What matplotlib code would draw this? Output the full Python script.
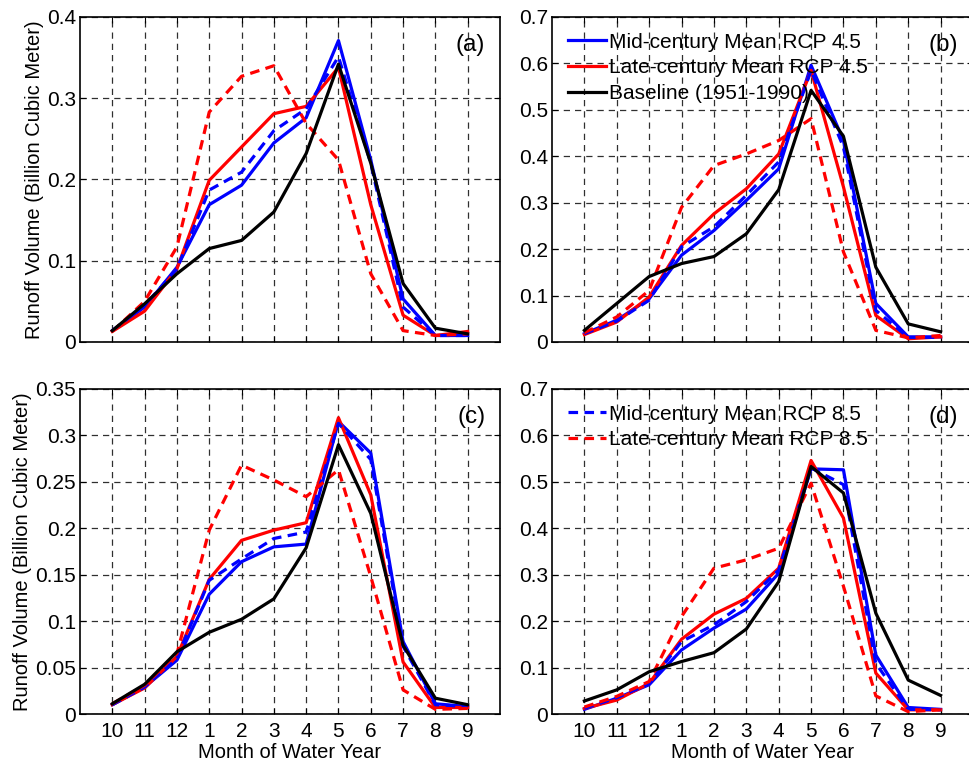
import numpy as np
import matplotlib.pyplot as plt

plt.rcParams['font.family'] = ['Liberation Sans', 'DejaVu Sans']

months = ['10', '11', '12', '1', '2', '3', '4', '5', '6', '7', '8', '9']
x = np.arange(1, 13)

# panel (a)
a_mid45 = [0.014, 0.043, 0.092, 0.169, 0.193, 0.245, 0.276, 0.371, 0.224, 0.053, 0.008, 0.008]
a_late45 = [0.013, 0.038, 0.090, 0.199, 0.240, 0.281, 0.290, 0.338, 0.169, 0.033, 0.008, 0.013]
a_mid85 = [0.014, 0.045, 0.090, 0.187, 0.209, 0.260, 0.287, 0.351, 0.220, 0.043, 0.008, 0.008]
a_late85 = [0.013, 0.050, 0.117, 0.283, 0.327, 0.340, 0.269, 0.224, 0.084, 0.014, 0.008, 0.010]
a_base = [0.014, 0.047, 0.084, 0.115, 0.125, 0.160, 0.232, 0.342, 0.220, 0.072, 0.017, 0.010]

# panel (b)
b_mid45 = [0.018, 0.047, 0.093, 0.187, 0.240, 0.305, 0.373, 0.596, 0.434, 0.083, 0.011, 0.011]
b_late45 = [0.016, 0.043, 0.097, 0.208, 0.276, 0.330, 0.405, 0.585, 0.334, 0.057, 0.007, 0.011]
b_mid85 = [0.018, 0.045, 0.090, 0.205, 0.248, 0.316, 0.388, 0.585, 0.420, 0.068, 0.010, 0.010]
b_late85 = [0.020, 0.054, 0.111, 0.290, 0.380, 0.405, 0.434, 0.481, 0.194, 0.025, 0.009, 0.014]
b_base = [0.025, 0.083, 0.141, 0.169, 0.184, 0.233, 0.328, 0.542, 0.443, 0.161, 0.039, 0.022]

# panel (c)
c_mid45 = [0.010, 0.029, 0.058, 0.129, 0.164, 0.180, 0.183, 0.315, 0.281, 0.078, 0.011, 0.008]
c_late45 = [0.010, 0.028, 0.062, 0.145, 0.187, 0.198, 0.206, 0.319, 0.236, 0.056, 0.007, 0.007]
c_mid85 = [0.010, 0.029, 0.060, 0.144, 0.167, 0.189, 0.196, 0.313, 0.274, 0.073, 0.010, 0.008]
c_late85 = [0.011, 0.031, 0.065, 0.198, 0.268, 0.252, 0.234, 0.263, 0.148, 0.026, 0.005, 0.006]
c_base = [0.011, 0.032, 0.067, 0.088, 0.102, 0.124, 0.179, 0.290, 0.216, 0.074, 0.017, 0.010]

# panel (d)
d_mid45 = [0.010, 0.034, 0.063, 0.138, 0.185, 0.226, 0.303, 0.528, 0.526, 0.127, 0.014, 0.010]
d_late45 = [0.012, 0.030, 0.066, 0.161, 0.215, 0.249, 0.314, 0.546, 0.422, 0.088, 0.009, 0.009]
d_mid85 = [0.012, 0.035, 0.065, 0.156, 0.192, 0.242, 0.310, 0.530, 0.494, 0.109, 0.010, 0.009]
d_late85 = [0.015, 0.038, 0.070, 0.210, 0.314, 0.332, 0.357, 0.497, 0.275, 0.039, 0.005, 0.009]
d_base = [0.028, 0.052, 0.091, 0.113, 0.132, 0.183, 0.285, 0.533, 0.476, 0.217, 0.073, 0.040]

panels = [
    ('(a)', a_mid45, a_late45, a_mid85, a_late85, a_base, 0.4, 0.1),
    ('(b)', b_mid45, b_late45, b_mid85, b_late85, b_base, 0.7, 0.1),
    ('(c)', c_mid45, c_late45, c_mid85, c_late85, c_base, 0.35, 0.05),
    ('(d)', d_mid45, d_late45, d_mid85, d_late85, d_base, 0.7, 0.1),
]

W, H = 969, 763
fig = plt.figure(figsize=(W / 100, H / 100), dpi=100)

# axes boxes in pixels: left, top, right, bottom
boxes = [(80, 17, 500, 342), (552, 17, 973, 342),
         (80, 389, 500, 714), (552, 389, 973, 714)]

lw = 2.3
for i, (lab, m45, l45, m85, l85, base, ymax, ystep) in enumerate(panels):
    l, t, r, b = boxes[i]
    ax = fig.add_axes([l / W, (H - b) / H, (r - l) / W, (b - t) / H])
    h1, = ax.plot(x, m45, color='#0000ff', lw=lw, label='Mid-century Mean RCP 4.5')
    h2, = ax.plot(x, l45, color='#ff0000', lw=lw, label='Late-century Mean RCP 4.5')
    h4, = ax.plot(x, m85, color='#0000ff', lw=lw, ls=(0, (3, 2)), label='Mid-century Mean RCP 8.5')
    h5, = ax.plot(x, l85, color='#ff0000', lw=lw, ls=(0, (3, 2)), label='Late-century Mean RCP 8.5')
    h3, = ax.plot(x, base, color='black', lw=lw, label='Baseline (1951-1990)')

    ax.set_xlim(0, 13)
    ax.set_ylim(0, ymax)
    ax.set_xticks(x)
    ax.set_yticks(np.arange(0, ymax + ystep / 2, ystep))
    ax.set_yticklabels(['0'] + ['%g' % v for v in np.arange(ystep, ymax + ystep / 2, ystep)])
    if i >= 2:
        ax.set_xticklabels(months)
        ax.set_xlabel('Month of Water Year', fontsize=14.5, labelpad=1)
    else:
        ax.set_xticklabels([])
    if i % 2 == 0:
        ax.set_ylabel('Runoff Volume (Billion Cubic Meter)', fontsize=14.5, labelpad=2)

    ax.grid(True, color='#303030', ls=(0, (5, 4)), lw=0.9)
    ax.tick_params(direction='in', length=4, top=True, right=True, labelsize=15)
    ax.tick_params(axis='x', pad=6)
    ax.tick_params(axis='y', pad=3)
    for s in ax.spines.values():
        s.set_linewidth(1.2)

    ax.text(0.965, 0.915, lab, transform=ax.transAxes, ha='right', va='center', fontsize=17.5)

    if i == 1:
        ax.legend(handles=[h1, h2, h3], loc='upper left', frameon=False, fontsize=15,
                  handlelength=1.85, handletextpad=0.15, labelspacing=0.32,
                  borderaxespad=0.35)
    if i == 3:
        ax.legend(handles=[h4, h5], loc='upper left', frameon=False, fontsize=15,
                  handlelength=1.85, handletextpad=0.15, labelspacing=0.32,
                  borderaxespad=0.35)

fig.savefig('out.png', dpi=100)
